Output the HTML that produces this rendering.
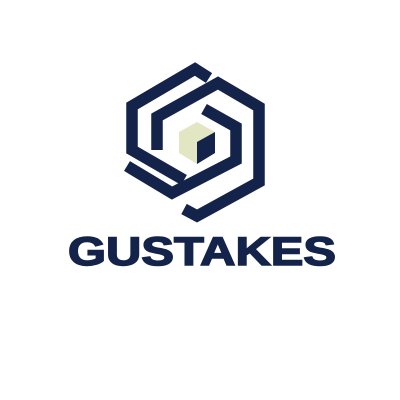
<!DOCTYPE html>
<html><head><meta charset="utf-8"><style>
html,body{margin:0;padding:0;background:#fff;width:400px;height:400px;overflow:hidden}
</style></head><body>
<svg width="400" height="400" viewBox="0 0 400 400">
<g fill="none" stroke="#13234a" stroke-width="11.5" stroke-linejoin="miter" stroke-miterlimit="10">
  <polyline points="209,78 195,69 132,106 132,150 184,180"/>
  <polyline points="157,150 157,117 218,83 259,107 259,182 197,216 184,209"/>
  <polyline points="127,166 172,193 236,160 236,127 204,109"/>
</g>
<g>
  <polygon points="197,122 215,132 215,153 197,164 179,153 179,132" fill="#e3e6c3"/>
  <polygon points="197,142 215,132 215,153 197,164" fill="#13234a"/>
</g>
<text x="68" y="265" textLength="268" lengthAdjust="spacingAndGlyphs" font-family="Liberation Sans, sans-serif" font-weight="bold" font-size="40" fill="#13234a" stroke="#13234a" stroke-width="1.5">GUSTAKES</text>
</svg>
</body></html>
